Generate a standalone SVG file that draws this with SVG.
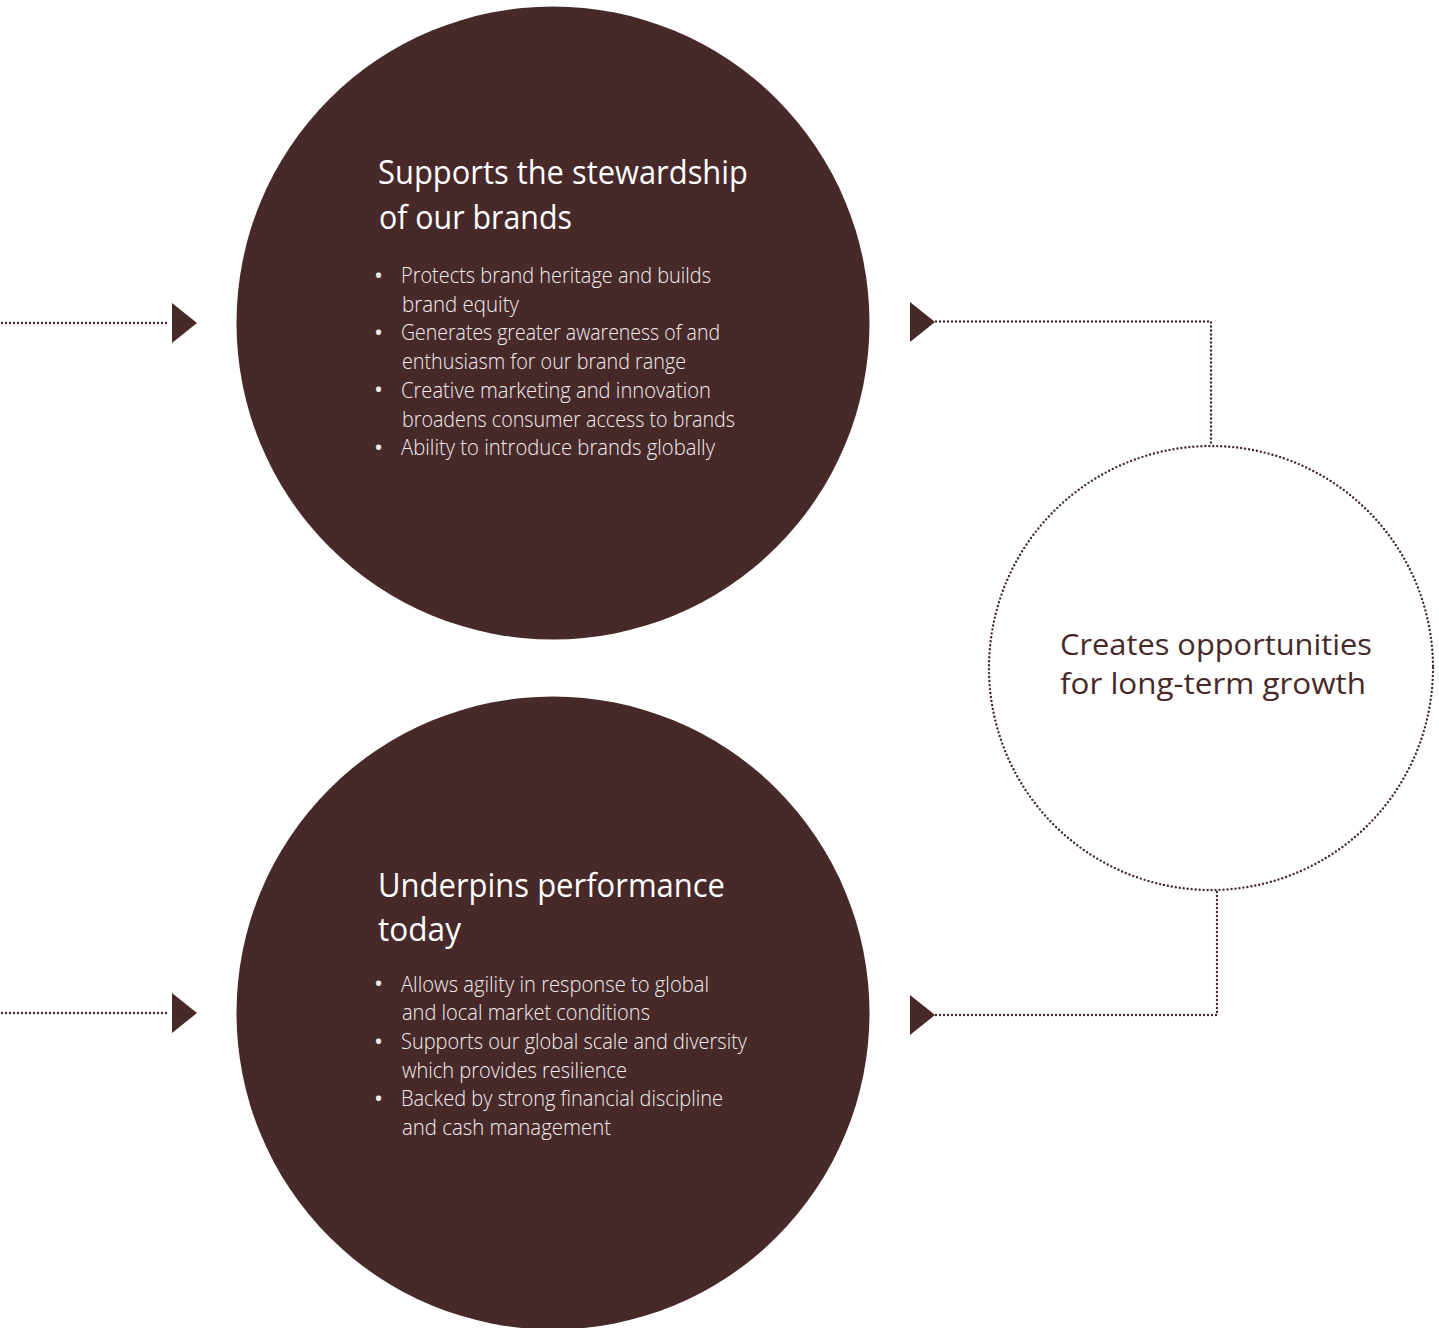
<svg xmlns="http://www.w3.org/2000/svg" width="1439" height="1328" viewBox="0 0 1439 1328">
<style>
.dark{fill:#47292a}
.dot{fill:none;stroke:#47292a;stroke-width:2.4;stroke-dasharray:0 4;stroke-linecap:round}
.head{font-family:"Open Sans","Noto Sans",sans-serif;font-size:32px;font-weight:400;fill:#ffffff}
.bul{font-family:"Open Sans","Noto Sans",sans-serif;font-size:22px;font-weight:300;fill:#f3eded}
.bd{font-size:24px;font-weight:400}
.rt{font-family:"Open Sans","Noto Sans",sans-serif;font-size:30px;font-weight:400;fill:#47292a}
</style>
<rect width="1439" height="1328" fill="#ffffff"/>
<g id="connectors">
<path class="dot" d="M2 323 H170"/>
<polygon class="dark" points="172,303 197,323 172,343"/>
<path class="dot" d="M2 1013 H170"/>
<polygon class="dark" points="172,993 197,1013 172,1033"/>
<path class="dot" d="M936 321.5 H1211 V446"/>
<polygon class="dark" points="910,302 935,322 910,342"/>
<path class="dot" d="M936 1015 H1217 V890"/>
<polygon class="dark" points="910,995 935,1015 910,1035"/>
</g>
<g id="node-stewardship">
<circle class="dark" cx="553" cy="323" r="316.5"/>
<text class="head" x="378" y="184" textLength="370" lengthAdjust="spacingAndGlyphs">Supports the stewardship</text>
<text class="head" x="379" y="229" textLength="193" lengthAdjust="spacingAndGlyphs">of our brands</text>
<g class="bul">
<text class="bd" x="374" y="283.5">•</text>
<text x="401" y="283" textLength="310" lengthAdjust="spacingAndGlyphs">Protects brand heritage and builds</text>
<text x="402" y="311.7" textLength="117" lengthAdjust="spacingAndGlyphs">brand equity</text>
<text class="bd" x="374" y="340.9">•</text>
<text x="401" y="340.4" textLength="319" lengthAdjust="spacingAndGlyphs">Generates greater awareness of and</text>
<text x="402" y="369" textLength="284" lengthAdjust="spacingAndGlyphs">enthusiasm for our brand range</text>
<text class="bd" x="374" y="398.3">•</text>
<text x="401" y="397.8" textLength="310" lengthAdjust="spacingAndGlyphs">Creative marketing and innovation</text>
<text x="402" y="426.5" textLength="333" lengthAdjust="spacingAndGlyphs">broadens consumer access to brands</text>
<text class="bd" x="374" y="455.5">•</text>
<text x="401" y="455" textLength="314" lengthAdjust="spacingAndGlyphs">Ability to introduce brands globally</text>
</g>
</g>
<g id="node-performance">
<circle class="dark" cx="553" cy="1013" r="316.5"/>
<text class="head" x="378" y="897" textLength="347" lengthAdjust="spacingAndGlyphs">Underpins performance</text>
<text class="head" x="378" y="941" textLength="83" lengthAdjust="spacingAndGlyphs">today</text>
<g class="bul">
<text class="bd" x="374" y="992">•</text>
<text x="401" y="991.5" textLength="308" lengthAdjust="spacingAndGlyphs">Allows agility in response to global</text>
<text x="402" y="1020.2" textLength="248" lengthAdjust="spacingAndGlyphs">and local market conditions</text>
<text class="bd" x="374" y="1049.5">•</text>
<text x="401" y="1049" textLength="346" lengthAdjust="spacingAndGlyphs">Supports our global scale and diversity</text>
<text x="402" y="1077.6" textLength="225" lengthAdjust="spacingAndGlyphs">which provides resilience</text>
<text class="bd" x="374" y="1106.9">•</text>
<text x="401" y="1106.4" textLength="322" lengthAdjust="spacingAndGlyphs">Backed by strong financial discipline</text>
<text x="402" y="1135" textLength="209" lengthAdjust="spacingAndGlyphs">and cash management</text>
</g>
</g>
<g id="node-growth">
<circle class="dot" cx="1211" cy="668" r="222"/>
<text class="rt" x="1060" y="655" textLength="312" lengthAdjust="spacingAndGlyphs">Creates opportunities</text>
<text class="rt" x="1060" y="694" textLength="306" lengthAdjust="spacingAndGlyphs">for long-term growth</text>
</g>
</svg>
